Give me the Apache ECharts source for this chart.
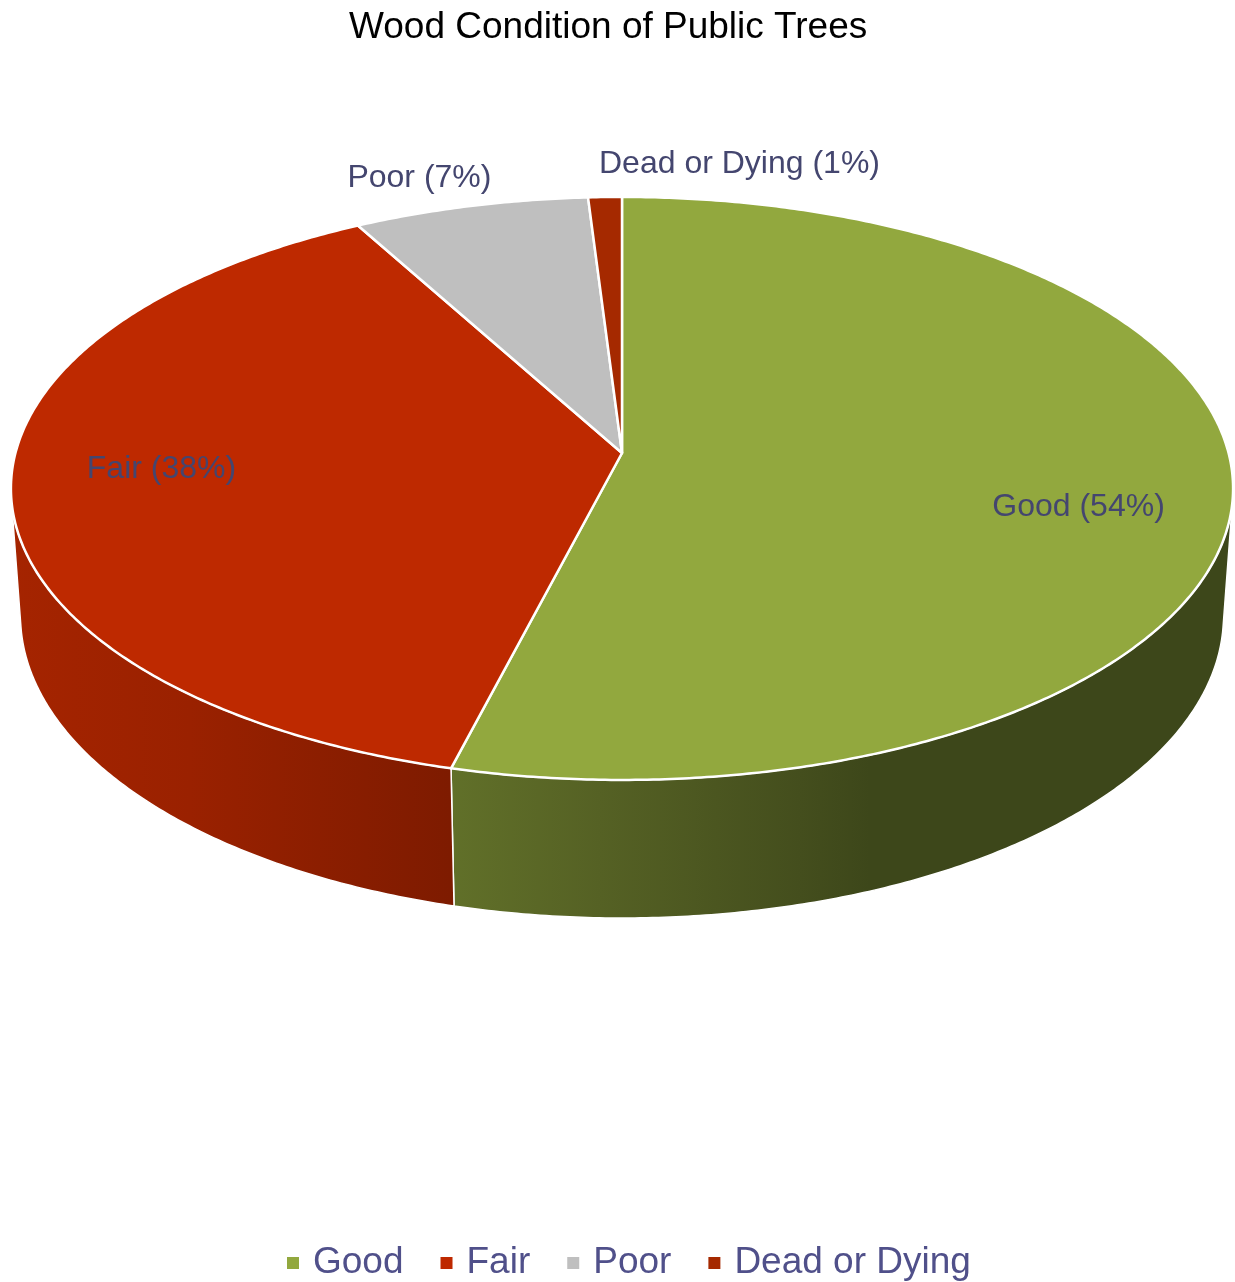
<!DOCTYPE html>
<html>
<head>
<meta charset="utf-8">
<script src="https://cdn.jsdelivr.net/npm/echarts@6/dist/echarts.min.js"></script>
<style>
html,body{margin:0;padding:0;background:#fff;}
#chart{width:1235px;height:1282px;}
</style>
</head>
<body>
<div id="chart"></div>
<script>
// ---- data ----
const titleText = 'Wood Condition of Public Trees';
const categories = ['Good', 'Fair', 'Poor', 'Dead or Dying'];
const values = [54, 38, 7, 1];

// ---- styles ----
const colors = ['#92a83e', '#be2900', '#bfbfbf', '#a52900'];
const FONT = '"Liberation Sans", Arial, sans-serif';
// label placement style per slice: inside (on top face) or outside (rim)
const labelStyles = [
  {mode: 'inside', dx: 0, dy: 27, align: 'center'},
  {mode: 'inside', dx: -4, dy: -11, align: 'center'},
  {mode: 'outside', dx: 21, dy: -28, align: 'right'},
  {mode: 'outside', dx: -6, dy: -33, align: 'left'}
];

// ---- 3D projection of the pie ----
const CX = 622, CY = 453, F = 4395, D = 7.246, SIN = 0.4735, COS = Math.sqrt(1 - SIN * SIN), H = 0.2407;
function proj(a, r, y) {
  const rad = a * Math.PI / 180;
  const X = r * Math.sin(rad), Z = -r * Math.cos(rad);
  const depth = D - y * SIN - Z * COS;
  return [CX + F * X / depth, CY + F * (-y * COS + Z * SIN) / depth];
}
const z0 = 1 / (D * COS);
const VIS0 = Math.acos(-z0) * 180 / Math.PI;
const VIS1 = 360 - VIS0;

const total = values.reduce((s, v) => s + v, 0);
const startA = [], endA = [];
let acc = 0;
values.forEach((v, i) => { startA.push(acc / total * 360); acc += v; endA.push(acc / total * 360); });

function shade(hex, f) {
  const n = parseInt(hex.slice(1), 16);
  const r = Math.round(((n >> 16) & 255) * f), g = Math.round(((n >> 8) & 255) * f), b = Math.round((n & 255) * f);
  return 'rgb(' + r + ',' + g + ',' + b + ')';
}
const shadeX = [10, 190, 450, 600, 800, 870, 1232];
const shadeF = [0.87, 0.81, 0.665, 0.58, 0.465, 0.42, 0.42];
function wallFill(color) {
  const stops = shadeX.map((x, k) => ({offset: (x - 10) / 1222, color: shade(color, shadeF[k])}));
  return new echarts.graphic.LinearGradient(10, 0, 1232, 0, stops, true);
}

function arcPoints(a0, a1, r, y) {
  const pts = [];
  const n = Math.max(2, Math.ceil((a1 - a0) / 0.5));
  for (let k = 0; k <= n; k++) pts.push(proj(a0 + (a1 - a0) * k / n, r, y));
  return pts;
}

function makeRender(i) {
  return function (params, api) {
    const a0 = startA[i], a1 = endA[i];
    const children = [];
    const w0 = Math.max(a0, VIS0), w1 = Math.min(a1, VIS1);
    if (w1 > w0) {
      const top = arcPoints(w0, w1, 1, 0);
      const bot = arcPoints(w0, w1, 1, -H).reverse();
      children.push({
        type: 'polygon', z2: 0,
        shape: {points: top.concat(bot)},
        style: {fill: wallFill(colors[i]), stroke: '#ffffff', lineWidth: 1.5, lineJoin: 'round'}
      });
    }
    const face = [proj(0, 0, 0)].concat(arcPoints(a0, a1, 1, 0));
    children.push({
      type: 'polygon', z2: 10,
      shape: {points: face},
      style: {fill: colors[i], stroke: '#ffffff', lineWidth: 2.5, lineJoin: 'round'}
    });
    const mid = (a0 + a1) / 2;
    const ls = labelStyles[i];
    const p = ls.mode === 'inside' ? proj(mid, 0.75, 0) : proj(mid, 1, 0);
    const pct = Math.round(api.value(0) / total * 100);
    children.push({
      type: 'text', z2: 100,
      style: {
        text: categories[i] + ' (' + pct + '%)',
        x: p[0] + ls.dx, y: p[1] + ls.dy,
        fill: '#44466f',
        font: '32px ' + FONT,
        align: ls.align, verticalAlign: 'middle'
      }
    });
    return {type: 'group', children: children};
  };
}

const chart = echarts.init(document.getElementById('chart'), null, {renderer: 'canvas'});
chart.setOption({
  animation: false,
  backgroundColor: '#ffffff',
  title: {
    text: titleText,
    left: 349, top: 9, padding: 0,
    textStyle: {fontSize: 37, fontWeight: 'normal', color: '#000000', fontFamily: FONT}
  },
  legend: {
    left: 287, top: 1243, padding: 0,
    icon: 'rect', itemWidth: 12, itemHeight: 12, itemGap: 37,
    data: categories,
    textStyle: {fontSize: 37, color: '#50508a', fontFamily: FONT, lineHeight: 40, padding: [0, 0, 0, 9]}
  },
  series: categories.map((name, i) => ({
    type: 'custom',
    name: name,
    coordinateSystem: 'none',
    renderItem: makeRender(i),
    itemStyle: {color: colors[i]},
    data: [[values[i]]],
    silent: true
  }))
});
</script>
</body>
</html>
